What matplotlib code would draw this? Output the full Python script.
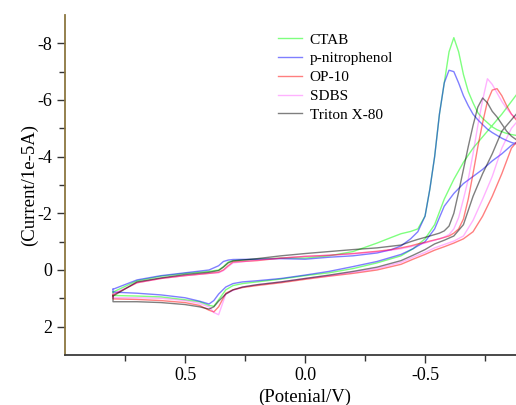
import matplotlib
matplotlib.use("Agg")
import matplotlib.pyplot as plt
from matplotlib.ticker import FixedLocator

plt.rcParams['font.family'] = ['Liberation Serif', 'DejaVu Serif']
plt.rcParams['axes.unicode_minus'] = False

labels = ["CTAB", "p-nitrophenol", "OP-10", "SDBS", "Triton X-80"]
colors = ["#00ff00", "#0000ff", "#ff0000", "#ff00ff", "#000000"]
alphas = [0.5, 0.5, 0.5, 0.3, 0.5]

# cathodic sweep (upper branch), potential in V
fwd_x = [0.80, 0.70, 0.60, 0.50, 0.40, 0.36, 0.34, 0.32, 0.30, 0.20,
         0.10, 0.00, -0.10, -0.20, -0.30, -0.36, -0.40, -0.44, -0.47, -0.50,
         -0.52, -0.54, -0.56, -0.58, -0.60, -0.62, -0.64, -0.66, -0.68, -0.70,
         -0.72, -0.74, -0.76, -0.78, -0.80, -0.82, -0.84, -0.86, -0.88, -0.90]

ctab_fwd = [0.78, 0.38, 0.22, 0.12, 0.05, 0.0, -0.12, -0.28, -0.33, -0.38,
            -0.42, -0.42, -0.5, -0.65, -0.95, -1.15, -1.28, -1.36, -1.45, -1.9,
            -2.85, -4.0, -5.5, -6.6, -7.7, -8.2, -7.7, -6.9, -6.3, -5.9,
            -5.55, -5.35, -5.2, -5.05, -4.95, -4.88, -4.82, -4.78, -4.75, -4.72]
pnp_fwd = [0.68, 0.35, 0.2, 0.1, 0.0, -0.15, -0.3, -0.35, -0.37, -0.38,
           -0.4, -0.38, -0.45, -0.5, -0.6, -0.72, -0.85, -1.1, -1.35, -1.9,
           -2.85, -4.0, -5.5, -6.6, -7.05, -7.0, -6.6, -6.15, -5.8, -5.5,
           -5.3, -5.13, -4.97, -4.85, -4.75, -4.65, -4.57, -4.5, -4.45, -4.4]
op10_fwd = [0.88, 0.45, 0.3, 0.2, 0.12, 0.08, 0.0, -0.15, -0.28, -0.33,
            -0.42, -0.48, -0.52, -0.58, -0.66, -0.72, -0.78, -0.85, -0.92, -0.97,
            -1.02, -1.06, -1.1, -1.15, -1.2, -1.3, -1.45, -1.8, -2.5, -3.4,
            -4.35, -5.2, -5.95, -6.35, -6.4, -6.15, -5.8, -5.5, -5.3, -5.15]
sdbs_fwd = [0.85, 0.45, 0.3, 0.2, 0.12, 0.1, 0.02, -0.12, -0.25, -0.35,
            -0.42, -0.48, -0.52, -0.57, -0.64, -0.7, -0.75, -0.82, -0.88, -0.95,
            -1.0, -1.05, -1.1, -1.16, -1.25, -1.45, -1.85, -2.5, -3.2, -4.1,
            -5.1, -6.0, -6.75, -6.55, -6.25, -5.95, -5.7, -5.5, -5.35, -5.25]
triton_fwd = [0.92, 0.42, 0.28, 0.16, 0.08, 0.02, -0.1, -0.25, -0.32, -0.4,
              -0.5, -0.58, -0.65, -0.72, -0.78, -0.84, -0.88, -1.0, -1.08, -1.15,
              -1.2, -1.25, -1.3, -1.38, -1.55, -2.0, -2.75, -3.55, -4.35, -5.1,
              -5.75, -6.07, -5.9, -5.6, -5.4, -5.15, -4.9, -4.72, -4.6, -4.55]

# anodic sweep (lower branch)
ret_x = [-0.90, -0.86, -0.82, -0.78, -0.74, -0.70, -0.66, -0.62, -0.58, -0.54,
         -0.50, -0.45, -0.40, -0.30, -0.20, -0.10, 0.00, 0.10, 0.20, 0.26,
         0.30, 0.33, 0.36, 0.38, 0.40, 0.44, 0.50, 0.60, 0.70, 0.80]

ctab_ret = [-6.4, -5.95, -5.5, -5.1, -4.7, -4.3, -3.8, -3.2, -2.5, -1.6,
            -1.1, -0.75, -0.5, -0.25, -0.05, 0.1, 0.2, 0.32, 0.42, 0.48,
            0.55, 0.7, 1.05, 1.28, 1.25, 1.12, 1.05, 0.95, 0.92, 0.9]
pnp_ret = [-4.6, -4.4, -4.1, -3.85, -3.55, -3.3, -3.05, -2.7, -2.25, -1.45,
           -1.0, -0.75, -0.55, -0.3, -0.12, 0.05, 0.18, 0.3, 0.38, 0.42,
           0.48, 0.6, 0.85, 1.08, 1.2, 1.1, 0.98, 0.88, 0.82, 0.78]
op10_ret = [-4.7, -4.3, -3.4, -2.6, -1.9, -1.35, -1.1, -0.95, -0.82, -0.7,
            -0.55, -0.38, -0.2, 0.0, 0.12, 0.22, 0.33, 0.45, 0.55, 0.62,
            0.7, 0.82, 1.3, 1.48, 1.42, 1.25, 1.15, 1.08, 1.04, 1.02]
sdbs_ret = [-5.4, -5.0, -4.3, -3.3, -2.5, -1.75, -1.2, -1.02, -0.9, -0.78,
            -0.62, -0.45, -0.27, -0.05, 0.08, 0.2, 0.3, 0.42, 0.52, 0.6,
            0.72, 0.85, 1.58, 1.5, 1.3, 1.18, 1.08, 1.0, 0.98, 0.98]
triton_ret = [-5.7, -5.3, -4.9, -4.1, -3.4, -2.6, -1.6, -1.2, -1.05, -0.92,
              -0.72, -0.52, -0.33, -0.1, 0.05, 0.18, 0.3, 0.42, 0.52, 0.6,
              0.7, 0.85, 1.1, 1.3, 1.38, 1.3, 1.22, 1.15, 1.12, 1.12]

forward = [ctab_fwd, pnp_fwd, op10_fwd, sdbs_fwd, triton_fwd]
reverse = [ctab_ret, pnp_ret, op10_ret, sdbs_ret, triton_ret]

fig = plt.figure(figsize=(5.16, 4.05), dpi=100)
ax = fig.add_axes([0.126, 0.1235, 0.874, 0.8395])

for lab, c, a, yf, yr in zip(labels, colors, alphas, forward, reverse):
    xs = fwd_x + ret_x + [fwd_x[0]]
    ys = yf + yr + [yf[0]]
    ax.plot(xs, ys, color=c, alpha=a, lw=1.0, label=lab)

ax.set_xlim(1.0, -0.879)
ax.set_ylim(3, -9)

ax.xaxis.set_major_locator(FixedLocator([0.5, 0.0, -0.5]))
ax.xaxis.set_minor_locator(FixedLocator([0.75, 0.25, -0.25, -0.75]))
ax.yaxis.set_major_locator(FixedLocator([-8, -6, -4, -2, 0, 2]))
ax.yaxis.set_minor_locator(FixedLocator([-7, -5, -3, -1, 1]))
ax.set_xticklabels(["0.5", "0.0", "-0.5"])
ax.set_yticklabels(["-8", "-6", "-4", "-2", "0", "2"])

ax.tick_params(which='major', direction='out', length=6, width=1.0,
               labelsize=13, color='#333333', pad=3)
ax.tick_params(which='minor', direction='out', length=4, width=1.0,
               color='#333333')

for s in ['top', 'right']:
    ax.spines[s].set_visible(False)
ax.spines['left'].set_color('#8b7640')
ax.spines['left'].set_linewidth(1.3)
ax.spines['bottom'].set_color('#3a3a3a')
ax.spines['bottom'].set_linewidth(1.3)

ax.set_xlabel("(Potenial/V)", fontsize=13.5)
ax.xaxis.set_label_coords(1.0 / 1.879, -0.1)
ax.set_ylabel("(Current/1e-5A)", fontsize=13.5)
ax.yaxis.set_label_coords(-0.06, 0.5)

ax.legend(loc='upper left', bbox_to_anchor=(0.458, 0.965), frameon=False,
          fontsize=11, handlelength=1.6, handletextpad=0.5,
          labelspacing=0.33, borderaxespad=0)

fig.savefig("out.png", dpi=100)
